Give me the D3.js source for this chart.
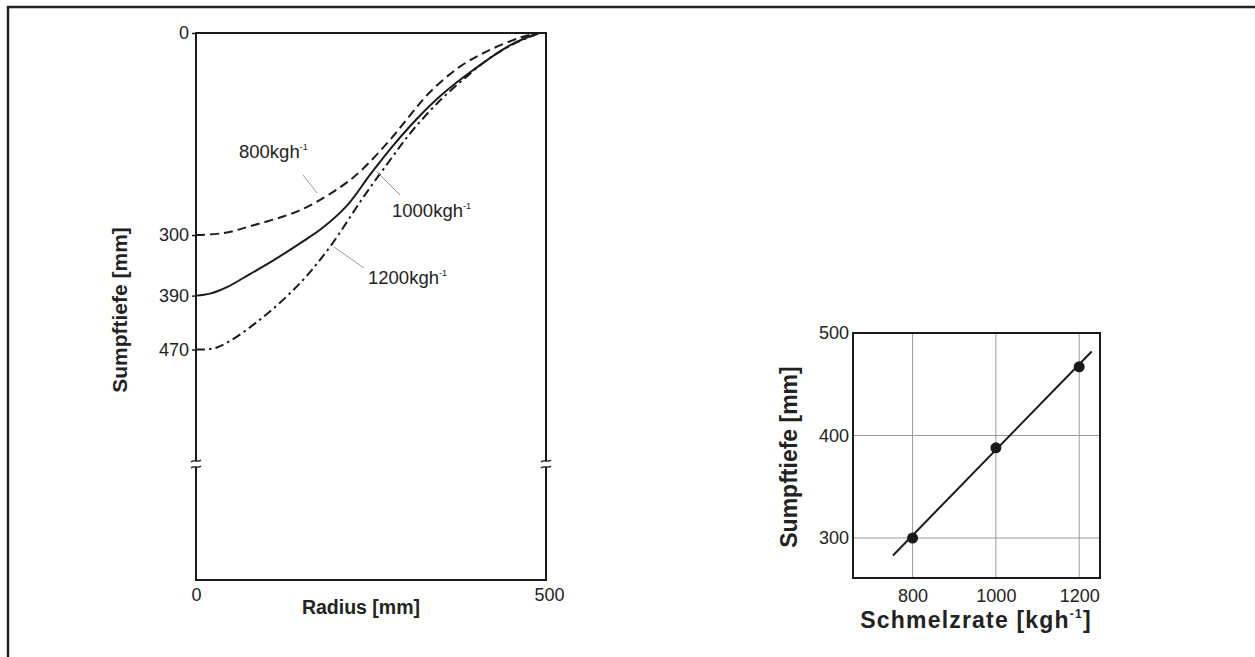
<!DOCTYPE html>
<html><head><meta charset="utf-8">
<script src="https://cdn.jsdelivr.net/npm/d3@7"></script>
<style>
html,body{margin:0;padding:0;background:#fff;}
svg text{font-family:"Liberation Sans",Arial,sans-serif;fill:#222;}
</style></head>
<body><svg id="c" width="1255" height="657"></svg>
<script>
// ---- data: left chart (Radius [mm] vs Sumpftiefe [mm]) ----
const rate800R  = [0, 40, 77, 149, 206, 234, 277, 306, 334, 377, 420, 463, 488];
const rate800D  = [300, 297, 287, 263, 229, 206, 159, 122, 88, 50, 25, 7, 0];
const rate1000R = [0, 20, 45, 77, 110, 149, 180, 216, 249, 281, 316, 353, 396, 449, 489];
const rate1000D = [390, 387, 377, 358, 338, 312, 290, 256, 210, 168, 127, 90, 55, 18, 0];
const rate1200R = [0, 30, 91, 149, 191, 239, 277, 306, 344, 384, 420, 456, 491];
const rate1200D = [470, 467, 426, 371, 318, 244, 189, 149, 105, 67, 37, 15, 0];
const leftYTicks = [0, 300, 390, 470];
const leftXTicks = [0, 500];
const curveLabels = ["800", "1000", "1200"];
// ---- data: right chart (Schmelzrate vs Sumpftiefe) ----
const meltRates = [800, 1000, 1200];
const poolDepth = [300, 388, 467];
const fitX = [753, 1230];
const fitY = [283, 482];
const rightXTicks = [800, 1000, 1200];
const rightYTicks = [300, 400, 500];

const svg = d3.select("#c");
const ink = "#1a1a1a";
const FF = "Liberation Sans, Arial, sans-serif";

// outer border (top and left only)
svg.append("line").attr("x1",7).attr("x2",1255).attr("y1",7).attr("y2",7).attr("stroke","#222").attr("stroke-width",2.5);
svg.append("line").attr("x1",8).attr("x2",8).attr("y1",6).attr("y2",657).attr("stroke","#222").attr("stroke-width",2.5);

// ================= LEFT CHART =================
const L = {x0:196, x1:546, y0:33, y1:580, brk:464};
const xL = d3.scaleLinear().domain([0,500]).range([L.x0, L.x1]);
const yL = d3.scaleLinear().domain([0,470]).range([L.y0, 349.5]);

const gL = svg.append("g");
const fr = gL.append("g").attr("stroke",ink).attr("stroke-width",2).attr("fill","none");
fr.append("line").attr("x1",L.x0).attr("x2",L.x1).attr("y1",L.y0).attr("y2",L.y0);
fr.append("line").attr("x1",L.x0).attr("x2",L.x1).attr("y1",L.y1).attr("y2",L.y1);
[L.x0, L.x1].forEach(x=>{
  fr.append("line").attr("x1",x).attr("x2",x).attr("y1",L.y0-1).attr("y2",L.brk-3);
  fr.append("line").attr("x1",x).attr("x2",x).attr("y1",L.brk+3).attr("y2",L.y1+1);
  [-3,3].forEach(o=>{
    const y=L.brk+o;
    fr.append("path").attr("stroke-width",1.4)
      .attr("d",`M${x-5},${y+1} C${x-2},${y-2} ${x+2},${y+2} ${x+5},${y-1}`);
  });
});

// y axis ticks & labels
const yAx = d3.axisLeft(yL).tickValues(leftYTicks).tickSize(4).tickPadding(3).tickFormat(d3.format("d"));
const ya = gL.append("g").attr("transform",`translate(${L.x0},0)`).call(yAx);
ya.select(".domain").remove();
ya.selectAll("line").attr("stroke",ink).attr("stroke-width",1.5);
ya.selectAll("text").attr("font-size",18).attr("fill","#222").style("font-family",FF);

// x axis labels
const xAx = d3.axisBottom(xL).tickValues(leftXTicks).tickSize(0).tickPadding(8).tickFormat(d3.format("d"));
const xa = gL.append("g").attr("transform",`translate(0,${L.y1})`).call(xAx);
xa.select(".domain").remove();
xa.selectAll("text").attr("font-size",18).attr("fill","#222").style("font-family",FF);
xa.selectAll(".tick").filter(d=>d===500).select("text").attr("dx",3);

// axis titles
gL.append("text").attr("x",361).attr("y",614).attr("text-anchor","middle").attr("font-size",19.5).attr("font-weight","bold").text("Radius [mm]");
gL.append("text").attr("transform","translate(127,310) rotate(-90)").attr("text-anchor","middle").attr("font-size",21).attr("font-weight","bold").text("Sumpftiefe [mm]");

// curves
const lineL = d3.line().x(d=>xL(d[0])).y(d=>yL(d[1])).curve(d3.curveCatmullRom.alpha(0.5));
const series = [
  {r:rate800R, d:rate800D, dash:"9,5"},
  {r:rate1000R, d:rate1000D, dash:null},
  {r:rate1200R, d:rate1200D, dash:"9,4,2.5,4"}
];
series.forEach(s=>{
  const pts = s.r.map((r,i)=>[r, s.d[i]]);
  const p = gL.append("path").datum(pts).attr("d",lineL).attr("fill","none").attr("stroke",ink).attr("stroke-width",2);
  if(s.dash) p.attr("stroke-dasharray",s.dash);
});

// curve labels with leader lines
const labelPos = [
  {tx:239, ty:158, lx1:303, ly1:175, lx2:317, ly2:193},
  {tx:392, ty:217, lx1:377, ly1:172, lx2:400, ly2:195},
  {tx:368, ty:284, lx1:334, ly1:247, lx2:364, ly2:268}
];
labelPos.forEach((p,i)=>{
  gL.append("line").attr("x1",p.lx1).attr("y1",p.ly1).attr("x2",p.lx2).attr("y2",p.ly2).attr("stroke","#999").attr("stroke-width",1);
  const t = gL.append("text").attr("x",p.tx).attr("y",p.ty).attr("font-size",18.5);
  t.append("tspan").text(curveLabels[i]+"kgh");
  t.append("tspan").attr("font-size",9).attr("dy",-8).text("-1");
});

// ================= RIGHT CHART =================
const R = {x0:853, x1:1100, y0:333, y1:578};
const xR = d3.scaleLinear().domain([657,1250]).range([R.x0,R.x1]);
const yR = d3.scaleLinear().domain([261,500]).range([R.y1,R.y0]);
const gR = svg.append("g");

gR.append("g").selectAll("line").data(rightXTicks).join("line")
  .attr("x1",d=>xR(d)).attr("x2",d=>xR(d)).attr("y1",R.y0).attr("y2",R.y1).attr("stroke","#9a9a9a").attr("stroke-width",1);
gR.append("g").selectAll("line").data(rightYTicks.filter(v=>v<500)).join("line")
  .attr("y1",d=>yR(d)).attr("y2",d=>yR(d)).attr("x1",R.x0).attr("x2",R.x1).attr("stroke","#9a9a9a").attr("stroke-width",1);

gR.append("rect").attr("x",R.x0).attr("y",R.y0).attr("width",R.x1-R.x0).attr("height",R.y1-R.y0)
  .attr("fill","none").attr("stroke",ink).attr("stroke-width",2);

const xRa = gR.append("g").attr("transform",`translate(0,${R.y1})`)
  .call(d3.axisBottom(xR).tickValues(rightXTicks).tickSize(0).tickPadding(11).tickFormat(d3.format("d")));
xRa.select(".domain").remove();
xRa.selectAll("text").attr("font-size",18).attr("fill","#222").style("font-family",FF);
const yRa = gR.append("g").attr("transform",`translate(${R.x0},0)`)
  .call(d3.axisLeft(yR).tickValues(rightYTicks).tickSize(0).tickPadding(4).tickFormat(d3.format("d")));
yRa.select(".domain").remove();
yRa.selectAll("text").attr("font-size",18).attr("fill","#222").style("font-family",FF);

gR.append("line").attr("x1",xR(fitX[0])).attr("y1",yR(fitY[0])).attr("x2",xR(fitX[1])).attr("y2",yR(fitY[1]))
  .attr("stroke",ink).attr("stroke-width",2);
gR.append("g").selectAll("circle").data(meltRates).join("circle")
  .attr("cx",d=>xR(d)).attr("cy",(d,i)=>yR(poolDepth[i])).attr("r",5.5).attr("fill",ink);

const tX = gR.append("text").attr("x",976).attr("y",628).attr("text-anchor","middle").attr("font-size",23).attr("font-weight","bold").attr("letter-spacing",1.2);
tX.append("tspan").text("Schmelzrate [kgh");
tX.append("tspan").attr("font-size",12).attr("dy",-10).text("-1");
tX.append("tspan").attr("dy",10).text("]");
gR.append("text").attr("transform","translate(797,457) rotate(-90)").attr("text-anchor","middle").attr("font-size",23).attr("font-weight","bold").text("Sumpftiefe [mm]");
</script></body></html>
